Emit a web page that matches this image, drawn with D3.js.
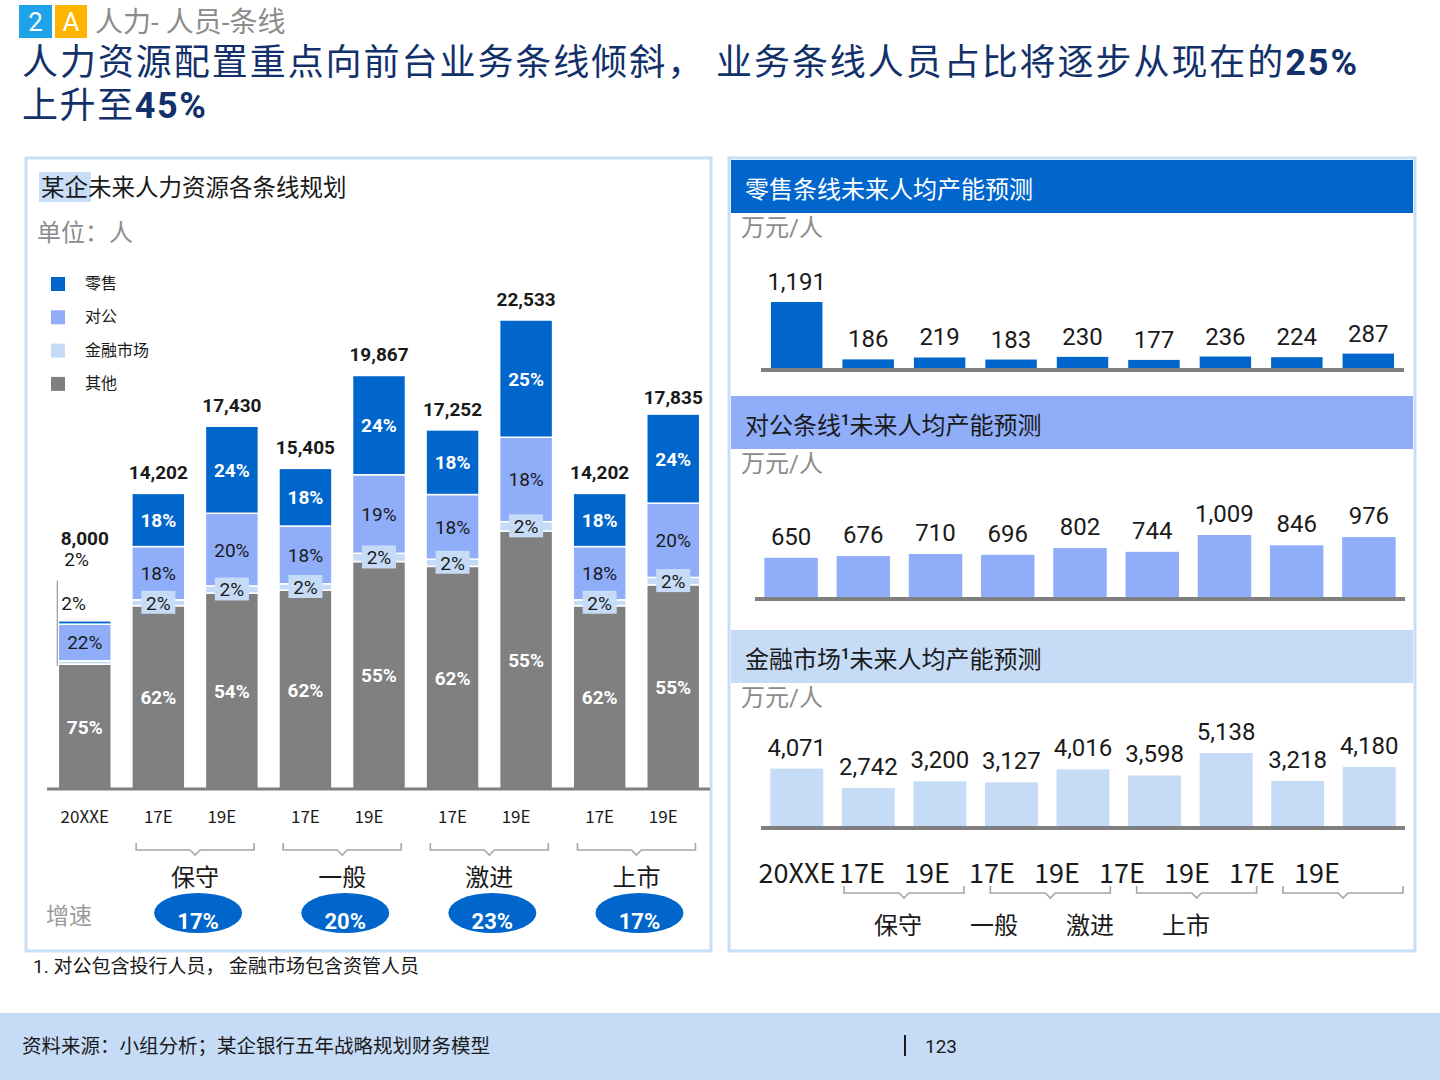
<!DOCTYPE html>
<html><head><meta charset="utf-8">
<script src="https://cdn.jsdelivr.net/npm/d3@7"></script>
<style>
html,body{margin:0;padding:0;background:#fff;}
text{font-family:Roboto,"Noto Sans CJK SC",sans-serif;}
.narrow{font-family:"Liberation Sans Narrow","Noto Sans CJK SC",sans-serif;}
</style></head>
<body>
<svg id="c" width="1440" height="1080"></svg>
<script>
// ---------- data ----------
const barLabels = ["20XXE","17E","19E","17E","19E","17E","19E","17E","19E"];
const barGroups = ["现状","保守","保守","一般","一般","激进","激进","上市","上市"];
const totals = [8000,14202,17430,15405,19867,17252,22533,14202,17835];
const retailPct = [2,18,24,18,24,18,25,18,24];
const corpPct = [22,18,20,18,19,18,18,18,20];
const fmPct = [2,2,2,2,2,2,2,2,2];
const otherPct = [75,62,54,62,55,62,55,62,55];
const groups = ["保守","一般","激进","上市"];
const growth = ["17%","20%","23%","17%"];
const seriesNames = ["零售","对公","金融市场","其他"];
const retailProd = [1191,186,219,183,230,177,236,224,287];
const corpProd = [650,676,710,696,802,744,1009,846,976];
const fmProd = [4071,2742,3200,3127,4016,3598,5138,3218,4180];

const C = {retail:"#0066cc", corp:"#8fadf9", fm:"#c6dcf6", other:"#808080",
           navy:"#12306a", panel:"#c8def6", gray:"#8c8c8c", axis:"#7f7f7f", text:"#1a1a1a"};
const seriesColors = [C.retail, C.corp, C.fm, C.other];

const svg = d3.select("#c");

// ---------- header ----------
svg.append("rect").attr("x",19).attr("y",5).attr("width",33).attr("height",33).attr("fill","#1ea3e8");
svg.append("text").attr("x",35.5).attr("y",31).attr("text-anchor","middle").attr("fill","#fff").attr("font-size",26).text("2");
svg.append("rect").attr("x",55).attr("y",5).attr("width",32).attr("height",33).attr("fill","#ffb400");
svg.append("text").attr("x",71).attr("y",31).attr("text-anchor","middle").attr("fill","#fff").attr("font-size",26).text("A");
svg.append("text").attr("x",95).attr("y",32).attr("fill",C.gray).attr("font-size",28).text("人力- 人员-条线");

const t1 = svg.append("text").attr("x",22).attr("y",75).attr("fill",C.navy).attr("font-size",36).attr("letter-spacing",1.95);
t1.append("tspan").text("人力资源配置重点向前台业务条线倾斜， 业务条线人员占比将逐步从现在的");
t1.append("tspan").attr("font-weight","bold").text("25%");
const t2 = svg.append("text").attr("x",22).attr("y",118).attr("fill",C.navy).attr("font-size",36).attr("letter-spacing",1.6);
t2.append("tspan").text("上升至");
t2.append("tspan").attr("font-weight","bold").text("45%");

// ---------- panels ----------
svg.append("rect").attr("x",26).attr("y",158).attr("width",685).attr("height",793)
  .attr("fill","none").attr("stroke",C.panel).attr("stroke-width",3);
svg.append("rect").attr("x",729).attr("y",158).attr("width",686).attr("height",793)
  .attr("fill","none").attr("stroke",C.panel).attr("stroke-width",3);

// ---------- left chart ----------
svg.append("rect").attr("x",39).attr("y",172).attr("width",52).attr("height",30).attr("fill",C.panel);
svg.append("text").attr("x",41).attr("y",196).attr("font-size",23.5).attr("fill",C.text).text("某企未来人力资源各条线规划");
svg.append("text").attr("x",37).attr("y",241).attr("font-size",24).attr("fill",C.gray).text("单位：人");

const leg = svg.append("g");
seriesNames.forEach((n,i)=>{
  const cy = 284 + i*33.3;
  leg.append("rect").attr("x",51).attr("y",cy-7).attr("width",14).attr("height",14).attr("fill",seriesColors[i]);
  leg.append("text").attr("x",85).attr("y",cy+5).attr("font-size",16).attr("fill",C.text).text(n);
});

const idx = d3.range(totals.length);
const xL = d3.scaleBand().domain(idx).range([48,710]).paddingInner(0.28).paddingOuter(0.14);
const yL = d3.scaleLinear().domain([0,d3.max(totals)]).range([789,320]);

const rows = idx.map(i=>({i, total:totals[i], other:totals[i]*otherPct[i]/100, fm:totals[i]*fmPct[i]/100,
  corp:totals[i]*corpPct[i]/100, retail:totals[i]*retailPct[i]/100,
  pct:{other:otherPct[i],fm:fmPct[i],corp:corpPct[i],retail:retailPct[i]}}));
const keys = ["other","fm","corp","retail"];
const stacked = d3.stack().keys(keys)(rows);
const colorOf = {other:C.other, fm:C.fm, corp:C.corp, retail:C.retail};

const gb = svg.append("g");
stacked.forEach(layer=>{
  gb.selectAll(null).data(layer).enter().append("rect")
    .attr("x",d=>xL(d.data.i)).attr("width",xL.bandwidth())
    .attr("y",d=>yL(d[1])).attr("height",d=>Math.max(0,yL(d[0])-yL(d[1])))
    .attr("fill",colorOf[layer.key]).attr("stroke","#fff").attr("stroke-width",1.5);
});
svg.append("line").attr("x1",47).attr("x2",710).attr("y1",789).attr("y2",789).attr("stroke",C.axis).attr("stroke-width",3);

// segment labels
stacked.forEach(layer=>{
  layer.forEach(d=>{
    const i = d.data.i, cx = xL(i)+xL.bandwidth()/2;
    const yc = (yL(d[0])+yL(d[1]))/2;
    const lbl = d.data.pct[layer.key] + "%";
    if (i===0 && (layer.key==="fm" || layer.key==="retail")) return; // placed outside
    if (layer.key==="fm") {
      gb.append("rect").attr("x",cx-17).attr("y",yc-12).attr("width",34).attr("height",23).attr("fill",C.fm);
      gb.append("text").attr("x",cx).attr("y",yc+7).attr("text-anchor","middle").attr("font-size",19).attr("fill",C.text).text(lbl);
    } else if (layer.key==="corp") {
      gb.append("text").attr("x",cx).attr("y",yc+7).attr("text-anchor","middle").attr("font-size",19).attr("fill",C.text).text(lbl);
    } else {
      gb.append("text").attr("x",cx).attr("y",yc+7).attr("text-anchor","middle").attr("font-size",19)
        .attr("font-weight","bold").attr("fill","#fff").text(lbl);
    }
  });
});
// outside labels for first bar
{
  const top0 = yL(rows[0].total);
  const x0 = xL(0);
  svg.append("line").attr("x1",x0-1).attr("x2",x0-1).attr("y1",top0-42).attr("y2",yL(rows[0].other)+2)
    .attr("stroke","#999").attr("stroke-width",1.2);
  svg.append("text").attr("x",x0+3).attr("y",top0-12).attr("font-size",19).attr("fill",C.text).text(fmPct[0]+"%");
  svg.append("text").attr("x",x0+6).attr("y",top0-56).attr("font-size",19).attr("fill",C.text).text(retailPct[0]+"%");
}
// totals
rows.forEach(r=>{
  const cx = xL(r.i)+xL.bandwidth()/2;
  const y = r.i===0 ? yL(r.total)-77 : yL(r.total)-14;
  svg.append("text").attr("x",cx).attr("y",y).attr("text-anchor","middle").attr("font-size",19)
    .attr("font-weight","bold").attr("fill",C.text).text(d3.format(",")(r.total));
});
// x labels (second year of each scenario sits slightly left, as in the source)
svg.append("g").selectAll("text").data(idx).enter().append("text").attr("class","narrow")
  .attr("x",i=>xL(i)+xL.bandwidth()/2).attr("dx",i=>barLabels[i]==="19E"?-10:0)
  .attr("y",823).attr("text-anchor","middle").attr("font-size",17)
  .attr("fill",C.text).text(i=>barLabels[i]);

// brackets / groups
function bracket(g, cx, half, y){
  g.append("path").attr("d",`M${cx-half},${y} V${y+7} H${cx-5} L${cx},${y+12} L${cx+5},${y+7} H${cx+half} V${y}`)
    .attr("fill","none").attr("stroke","#a6a6a6").attr("stroke-width",1.6);
}
const gcenter = g => { const ids = idx.filter(i=>barGroups[i]===g); return d3.mean(ids, i=>xL(i)+xL.bandwidth()/2); };
const gl = svg.append("g");
groups.forEach((g,k)=>{
  const cx = gcenter(g);
  bracket(gl, cx, 59, 843);
  gl.append("text").attr("x",cx).attr("y",886).attr("text-anchor","middle").attr("font-size",24).attr("fill",C.text).text(g);
  gl.append("ellipse").attr("cx",cx+3).attr("cy",913).attr("rx",44).attr("ry",20).attr("fill",C.retail);
  gl.append("text").attr("x",cx+3).attr("y",929).attr("text-anchor","middle").attr("font-size",22)
    .attr("font-weight","bold").attr("fill","#fff").text(growth[k]);
});
svg.append("text").attr("x",46).attr("y",924).attr("font-size",23).attr("fill","#9a9a9a").text("增速");

svg.append("text").attr("x",33).attr("y",973).attr("font-size",19).attr("fill",C.text).text("1. 对公包含投行人员， 金融市场包含资管人员");

// ---------- right charts ----------
function section(cfg){
  svg.append("rect").attr("x",731).attr("y",cfg.hy).attr("width",682).attr("height",53).attr("fill",cfg.hfill);
  const tt = svg.append("text").attr("x",745).attr("y",cfg.hy+38).attr("font-size",24).attr("fill",cfg.tcolor);
  tt.append("tspan").text(cfg.title[0]);
  if (cfg.title.length>1){
    tt.append("tspan").attr("dy",-9).attr("font-size",15).attr("font-weight","bold").text("1");
    tt.append("tspan").attr("dy",9).text(cfg.title[1]);
  }
  svg.append("text").attr("x",741).attr("y",cfg.hy+76).attr("font-size",24).attr("fill",C.gray).text("万元/人");
  const x = d3.scaleBand().domain(idx).range(cfg.xr).paddingInner(cfg.pad).paddingOuter(cfg.pad/2);
  const y = d3.scaleLinear().domain([0,d3.max(cfg.data)]).range(cfg.yr);
  const g = svg.append("g");
  g.selectAll("rect").data(cfg.data).enter().append("rect")
    .attr("x",(d,i)=>x(i)).attr("width",x.bandwidth()).attr("y",d=>y(d)).attr("height",d=>y(0)-y(d))
    .attr("fill",cfg.bfill);
  g.append("line").attr("x1",cfg.xr[0]).attr("x2",cfg.xr[1]).attr("y1",y(0)).attr("y2",y(0))
    .attr("stroke",C.axis).attr("stroke-width",4);
  g.selectAll("text.v").data(cfg.data).enter().append("text").attr("class","v")
    .attr("x",(d,i)=>x(i)+x.bandwidth()/2).attr("y",d=>y(d)-cfg.lo).attr("text-anchor","middle")
    .attr("font-size",24).attr("fill",C.text).text(d=>d3.format(",")(d));
}
section({hy:160, hfill:C.retail, tcolor:"#fff", title:["零售条线未来人均产能预测"],
  xr:[761,1404], pad:0.28, yr:[370,302], data:retailProd, bfill:C.retail, lo:12});
section({hy:396, hfill:C.corp, tcolor:C.text, title:["对公条线","未来人均产能预测"],
  xr:[755,1405], pad:0.26, yr:[599,535], data:corpProd, bfill:C.corp, lo:13});
section({hy:630, hfill:C.fm, tcolor:C.text, title:["金融市场","未来人均产能预测"],
  xr:[761,1405], pad:0.26, yr:[828,753], data:fmProd, bfill:C.fm, lo:13});

// right x axis labels (own point scale)
const xR = d3.scalePoint().domain(idx).range([797,1317]);
svg.append("g").selectAll("text").data(idx).enter().append("text").attr("class","narrow")
  .attr("x",i=>xR(i)).attr("y",883).attr("text-anchor","middle").attr("font-size",27)
  .attr("fill",C.text).text(i=>barLabels[i]);
const xRB = d3.scalePoint().domain(groups).range([904,1343]);
const xRG = d3.scalePoint().domain(groups).range([898,1186]);
const gr = svg.append("g");
groups.forEach(g=>{
  bracket(gr, xRB(g), 60, 886);
  gr.append("text").attr("x",xRG(g)).attr("y",934).attr("text-anchor","middle").attr("font-size",24).attr("fill",C.text).text(g);
});

// ---------- footer ----------
svg.append("rect").attr("x",0).attr("y",1013).attr("width",1440).attr("height",67).attr("fill",C.fm);
svg.append("text").attr("x",22).attr("y",1053).attr("font-size",19.5).attr("fill",C.text).text("资料来源：小组分析；某企银行五年战略规划财务模型");
svg.append("line").attr("x1",905).attr("x2",905).attr("y1",1035).attr("y2",1056).attr("stroke",C.text).attr("stroke-width",2);
svg.append("text").attr("x",925).attr("y",1053).attr("font-size",19).attr("fill",C.text).text("123");
</script>
</body></html>
